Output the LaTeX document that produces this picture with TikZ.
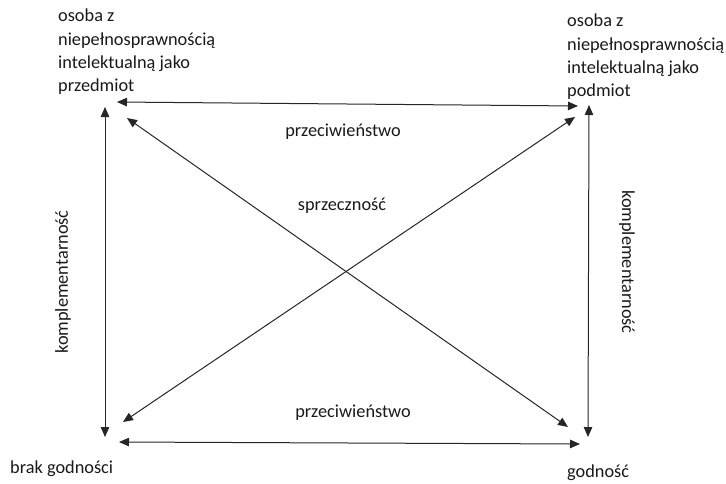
\documentclass[tikz,border=0pt]{standalone}
\usepackage{fontspec}
\setmainfont{Carlito}
\usetikzlibrary{arrows.meta}
\begin{document}
\begin{tikzpicture}[x=1pt,y=-1pt,
  txt/.style={inner sep=0pt,font=\fontsize{18.3}{23.3}\selectfont,text=black!90},
  lbl/.style={txt,anchor=base},
  conn/.style={line width=1pt,draw=black!85,{Triangle[length=10pt,width=8.5pt]}-{Triangle[length=10pt,width=8.5pt]}}
]
\useasboundingbox (0,0) rectangle (726,483);
% corner texts
\node[txt,anchor=north west,align=left] (tl) at (58,9) {osoba z\\niepełnosprawnością\\intelektualną jako\\przedmiot};
\node[txt,anchor=north west,align=left] (tr) at (567,14) {osoba z\\niepełnosprawnością\\intelektualną jako\\podmiot};
\node[txt,anchor=base west] (bl) at (10,473) {brak godności};
\node[txt,anchor=base west] (br) at (567,477) {godność};
% arrow endpoints
\coordinate (tlh) at (117,102);
\coordinate (tlv) at (105,107);
\coordinate (tld) at (127,118);
\coordinate (trh) at (578,106);
\coordinate (trv) at (589,105);
\coordinate (trd) at (575,117);
\coordinate (blh) at (119,442);
\coordinate (blv) at (105,437);
\coordinate (bld) at (123,422);
\coordinate (brh) at (580,444);
\coordinate (brv) at (588,437);
\coordinate (brd) at (568,427);
% connectors
\draw[conn] (tlh) -- (trh);
\draw[conn] (blh) -- (brh);
\draw[conn] (tlv) -- (blv);
\draw[conn] (trv) -- (brv);
\draw[conn] (tld) -- (brd);
\draw[conn] (bld) -- (trd);
% labels
\node[lbl] (p1) at (343,136) {przeciwieństwo};
\node[lbl] (sp) at (342,210) {sprzeczność};
\node[lbl] (p2) at (353,417) {przeciwieństwo};
\node[txt,rotate=90] (k1) at (63,282) {komplementarność};
\node[txt,rotate=-90] (k2) at (627,262) {komplementarność};
\end{tikzpicture}
\end{document}
